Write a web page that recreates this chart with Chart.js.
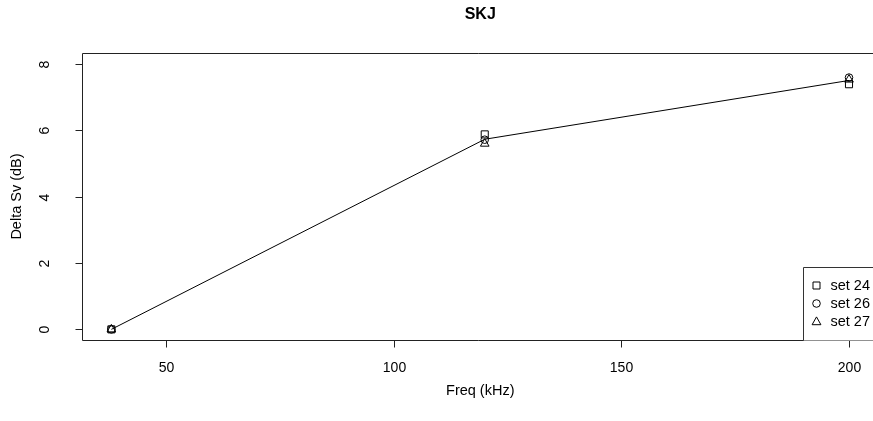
<!DOCTYPE html>
<html>
<head>
<meta charset="utf-8">
<script src="https://cdn.jsdelivr.net/npm/chart.js@4/dist/chart.umd.min.js"></script>
<style>
  html, body { margin: 0; padding: 0; overflow: hidden; background: #fff; }
  #wrap { width: 873px; height: 421px; }
  #SkjChart { width: 873px; height: 421px; display: block; }
</style>
</head>
<body>
<div id="wrap"><canvas id="SkjChart" width="873" height="421"></canvas></div>
<script>
// frequencies (kHz)
const freqs = [38, 120, 200];
// delta Sv per set (dB)
const set24 = [0, 5.87, 7.38];
const set26 = [0, 5.71, 7.58];
const set27 = [0, 5.59, 7.52];
const setNames = ["set 24", "set 26", "set 27"];
const setStyles = ["rect", "circle", "triangle"];

const xTicks = [50, 100, 150, 200];
const yTicks = [0, 2, 4, 6, 8];

const FONT = '"Liberation Sans", Arial, sans-serif';

// mean line across sets
let meanLine = freqs.map((f, i) => (set24[i] + set26[i] + set27[i]) / 3);

function toPoints(vals) {
  return freqs.map((f, i) => ({ x: f, y: vals[i] }));
}

function drawSymbol(ctx, style, x, y) {
  ctx.beginPath();
  if (style === "rect") {
    ctx.rect(x - 3.5, y - 3.5, 7, 7);
  } else if (style === "circle") {
    ctx.arc(x, y, 3.8, 0, Math.PI * 2);
  } else {
    ctx.moveTo(x, y - 4.6);
    ctx.lineTo(x + 4.4, y + 3.2);
    ctx.lineTo(x - 4.4, y + 3.2);
    ctx.closePath();
  }
  ctx.stroke();
}

// box (right side runs off the page), ticks, labels, titles, legend
const rFrame = {
  id: "rFrame",
  afterDraw(chart) {
    const ctx = chart.ctx;
    const area = chart.chartArea;
    const xs = chart.scales.x;
    const ys = chart.scales.y;
    const L = Math.round(area.left) + 0.5;
    const T = Math.round(area.top) + 0.5;
    const B = Math.round(area.bottom) + 0.5;
    const R = chart.width + 5;
    ctx.save();
    ctx.strokeStyle = "#222";
    ctx.lineWidth = 1;
    ctx.beginPath();
    ctx.moveTo(R, T);
    ctx.lineTo(L, T);
    ctx.lineTo(L, B);
    ctx.lineTo(R, B);
    ctx.stroke();

    ctx.fillStyle = "#000";
    ctx.font = "14px " + FONT;

    // x ticks
    ctx.textAlign = "center";
    ctx.textBaseline = "middle";
    xTicks.forEach(t => {
      let px = Math.round(xs.getPixelForValue(t)) + 0.5;
      ctx.beginPath();
      ctx.moveTo(px, B);
      ctx.lineTo(px, B + 7);
      ctx.stroke();
      ctx.fillText(String(t), px, B + 28);
    });

    // y ticks, labels rotated
    yTicks.forEach(t => {
      let py = Math.round(ys.getPixelForValue(t)) + 0.5;
      ctx.beginPath();
      ctx.moveTo(L, py);
      ctx.lineTo(L - 7, py);
      ctx.stroke();
      ctx.save();
      ctx.translate(L - 37, py);
      ctx.rotate(-Math.PI / 2);
      ctx.fillText(String(t), 0, 0);
      ctx.restore();
    });

    // titles, centred on the full plot region
    let fullRight = xs.getPixelForValue(206.48);
    let midX = (area.left + fullRight) / 2;
    let midY = (area.top + area.bottom) / 2;
    ctx.font = "14.5px " + FONT;
    ctx.fillText("Freq (kHz)", midX, B + 50);
    ctx.save();
    ctx.translate(L - 66, midY);
    ctx.rotate(-Math.PI / 2);
    ctx.fillText("Delta Sv (dB)", 0, 0);
    ctx.restore();
    ctx.font = "bold 16px " + FONT;
    ctx.fillText("SKJ", midX, 15);

    // legend in bottom right corner
    let lx = Math.round(xs.getPixelForValue(189.9)) + 0.5;
    let lh = 73;
    let ly = B - lh;
    ctx.fillStyle = "#fff";
    ctx.fillRect(lx, ly, R - lx, lh);
    ctx.strokeStyle = "#333";
    ctx.beginPath();
    ctx.moveTo(R, ly);
    ctx.lineTo(lx, ly);
    ctx.lineTo(lx, B);
    ctx.stroke();
    ctx.fillStyle = "#000";
    ctx.strokeStyle = "#000";
    ctx.font = "14.5px " + FONT;
    ctx.textAlign = "left";
    for (let i = 0; i < setNames.length; i++) {
      let ry = ly + 18 + i * 18;
      drawSymbol(ctx, setStyles[i], lx + 13, ry);
      ctx.fillText(setNames[i], lx + 27, ry);
    }
    ctx.restore();
  }
};

const markerBase = {
  showLine: false,
  backgroundColor: "rgba(0,0,0,0)",
  borderColor: "#000",
  pointBorderWidth: 1,
  pointBackgroundColor: "rgba(0,0,0,0)",
  pointBorderColor: "#000"
};

new Chart(document.getElementById("SkjChart"), {
  type: "scatter",
  data: {
    datasets: [
      {
        label: "mean",
        data: toPoints(meanLine),
        showLine: true,
        borderColor: "#000",
        borderWidth: 1,
        pointRadius: 0,
        tension: 0
      },
      Object.assign({ label: setNames[0], data: toPoints(set24), pointStyle: "rect", pointRadius: 5 }, markerBase),
      Object.assign({ label: setNames[1], data: toPoints(set26), pointStyle: "circle", pointRadius: 3.8 }, markerBase),
      Object.assign({ label: setNames[2], data: toPoints(set27), pointStyle: "triangle", pointRadius: 5 }, markerBase)
    ]
  },
  options: {
    responsive: false,
    animation: false,
    events: [],
    layout: { autoPadding: false, padding: { left: 82, top: 53, right: 0, bottom: 81 } },
    plugins: {
      legend: { display: false },
      tooltip: { enabled: false }
    },
    scales: {
      x: { type: "linear", display: false, min: 31.55, max: 205.27 },
      y: { type: "linear", display: false, min: -0.32, max: 8.32 }
    }
  },
  plugins: [rFrame]
});
</script>
</body>
</html>
